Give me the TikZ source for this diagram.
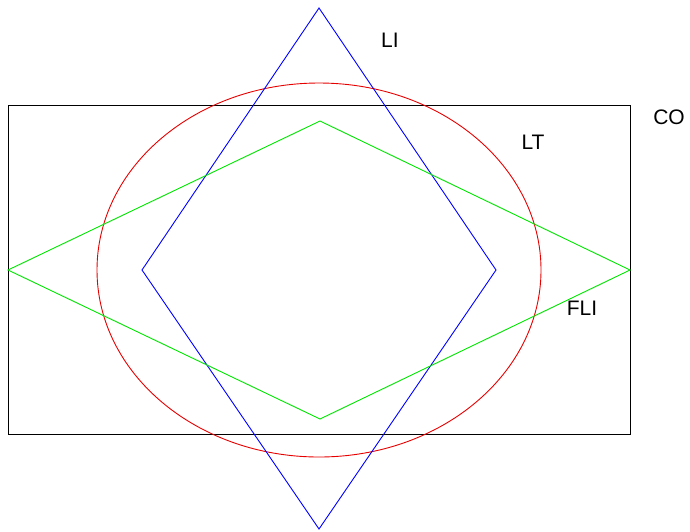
\documentclass[tikz,border=0pt]{standalone}
\usepackage{fontspec}
\setmainfont{Liberation Sans}
\usepackage{tikz}
\usetikzlibrary{positioning}
\definecolor{ltred}{RGB}{230, 0, 0}
\definecolor{liblue}{RGB}{0, 0, 255}
\definecolor{fligreen}{RGB}{0, 230, 0}

\begin{document}
\begin{tikzpicture}[
    x=1pt, y=-1pt,
    outline/.style={line width=0.9pt},
    lbl/.style={font=\fontsize{21}{25}\selectfont, inner sep=0pt}
]
\useasboundingbox (0,0) rectangle (690,531);

\draw[outline, black] (8,105) rectangle (630,434);
\draw[outline, ltred] (319,270) ellipse [x radius=222, y radius=187];
\draw[outline, liblue] (319,8) -- (496,270) -- (319,529) -- (142,270) -- cycle;
\draw[outline, fligreen] (320,121) -- (630,270) -- (320,419) -- (8,270) -- cycle;

\node[lbl] (li) at (390,40) {LI};
\node[lbl] (lt) at (533,142) {LT};
\node[lbl] (co) at (669,117) {CO};
\node[lbl] (fli) at (582,308) {FLI};

\end{tikzpicture}
\end{document}
